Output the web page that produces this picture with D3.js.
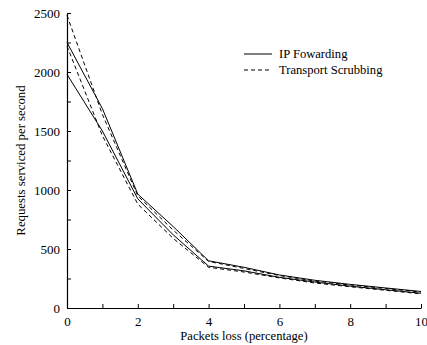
<!DOCTYPE html>
<html>
<head>
<meta charset="utf-8">
<script src="https://cdn.jsdelivr.net/npm/d3@7"></script>
<style>
  body { margin: 0; background: #fff; }
  text { font-family: "Liberation Serif", "DejaVu Serif", serif; fill: #000; }
</style>
</head>
<body>
<div id="chart"></div>
<script>
// Packet loss (%) on the x axis
const lossPct = [0, 1, 2, 3, 4, 5, 6, 7, 8, 9, 10];

// Requests per second, upper and lower bounds for each mode
const ipHigh = [2250, 1690, 965, 690, 400, 345, 280, 235, 200, 170, 140];
const ipLow = [1980, 1500, 925, 620, 355, 315, 260, 220, 185, 155, 125];
const tsHigh = [2480, 1640, 950, 660, 395, 335, 275, 228, 195, 165, 135];
const tsLow = [2220, 1460, 880, 590, 345, 305, 255, 212, 180, 150, 120];

const xTicks = [0, 2, 4, 6, 8, 10];
const yTicks = [0, 500, 1000, 1500, 2000, 2500];

const width = 427, height = 345;
const margin = { top: 13, right: 6, bottom: 37, left: 67 };

const svg = d3.select("#chart").append("svg")
  .attr("width", width)
  .attr("height", height);

const x = d3.scaleLinear().domain([0, 10]).range([margin.left, width - margin.right]);
const y = d3.scaleLinear().domain([0, 2500]).range([height - margin.bottom, margin.top]);

// inward ticks, every unit on x and every 250 on y
const xAxis = svg.append("g")
  .attr("transform", `translate(0,${height - margin.bottom})`)
  .call(d3.axisBottom(x).tickValues(d3.range(0, 11, 1)).tickSize(-4).tickSizeOuter(0)
    .tickFormat(d => xTicks.includes(d) ? d : ""));
xAxis.selectAll("text").attr("y", 9).style("font-size", "13px");

const yAxis = svg.append("g")
  .attr("transform", `translate(${margin.left},0)`)
  .call(d3.axisLeft(y).tickValues(d3.range(0, 2501, 250)).tickSize(-4).tickSizeOuter(0)
    .tickFormat(d => yTicks.includes(d) ? d : ""));
yAxis.selectAll("text").attr("x", -7).style("font-size", "13px");

svg.selectAll(".domain").attr("stroke", "#000").attr("stroke-width", 1.2);
svg.selectAll(".tick line").attr("stroke", "#000");

const line = d3.line().x((d, i) => x(lossPct[i])).y(d => y(d));

const series = [
  { vals: ipHigh, dash: null },
  { vals: ipLow, dash: null },
  { vals: tsHigh, dash: "4,3" },
  { vals: tsLow, dash: "4,3" }
];

svg.selectAll(".series")
  .data(series)
  .join("path")
  .attr("class", "series")
  .attr("fill", "none")
  .attr("stroke", "#000")
  .attr("stroke-width", 1)
  .attr("stroke-dasharray", d => d.dash)
  .attr("d", d => line(d.vals));

// legend
const legend = [
  { label: "IP Fowarding", dash: null },
  { label: "Transport Scrubbing", dash: "4,3" }
];
const lg = svg.append("g");
legend.forEach((d, i) => {
  const ly = 54 + i * 16;
  lg.append("line")
    .attr("x1", 244).attr("x2", 272)
    .attr("y1", ly).attr("y2", ly)
    .attr("stroke", "#000")
    .attr("stroke-dasharray", d.dash);
  lg.append("text")
    .attr("x", 279).attr("y", ly + 4)
    .style("font-size", "12.6px")
    .text(d.label);
});

// axis titles
svg.append("text")
  .attr("x", (margin.left + width - margin.right) / 2)
  .attr("y", 340)
  .attr("text-anchor", "middle")
  .style("font-size", "12.6px")
  .text("Packets loss (percentage)");

svg.append("text")
  .attr("transform", `translate(25,${(margin.top + height - margin.bottom) / 2}) rotate(-90)`)
  .attr("text-anchor", "middle")
  .style("font-size", "12.8px")
  .text("Requests serviced per second");
</script>
</body>
</html>
